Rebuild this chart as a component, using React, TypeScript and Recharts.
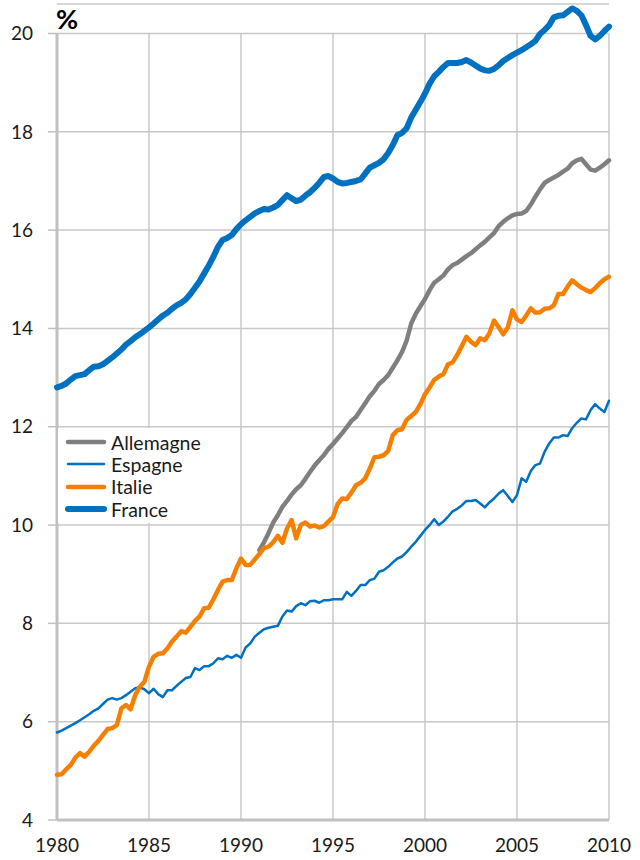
import {
  LineChart,
  Line,
  XAxis,
  YAxis,
  CartesianGrid,
  ReferenceLine,
  Legend,
} from "recharts";

const yearTicks = [1980, 1985, 1990, 1995, 2000, 2005, 2010];
const valueTicks = [4, 6, 8, 10, 12, 14, 16, 18, 20];

// quarterly values, 1980 Q1 -> 2010 Q1 (121 points)
const france = [
  12.8, 12.83, 12.88, 12.96, 13.03, 13.05, 13.07, 13.15, 13.22, 13.23,
  13.27, 13.34, 13.41, 13.49, 13.57, 13.67, 13.74, 13.82, 13.88, 13.95,
  14.02, 14.1, 14.18, 14.26, 14.32, 14.4, 14.47, 14.52, 14.59, 14.7,
  14.83, 14.96, 15.12, 15.28, 15.46, 15.66, 15.8, 15.84, 15.9, 16.02,
  16.12, 16.2, 16.27, 16.34, 16.39, 16.43, 16.42, 16.46, 16.51, 16.61,
  16.71, 16.65, 16.59, 16.62, 16.7, 16.77, 16.86, 16.96, 17.08, 17.1,
  17.05, 16.98, 16.95, 16.96, 16.98, 17.0, 17.03, 17.15, 17.27, 17.32,
  17.37, 17.44, 17.57, 17.73, 17.93, 17.98, 18.07, 18.29, 18.45, 18.61,
  18.78, 18.98, 19.13, 19.22, 19.32, 19.4, 19.4, 19.4, 19.42, 19.46,
  19.41, 19.35, 19.29, 19.25, 19.24, 19.28, 19.35, 19.44, 19.5, 19.56,
  19.61, 19.66, 19.72, 19.78, 19.85, 19.99, 20.07, 20.17, 20.33, 20.36,
  20.37, 20.44, 20.51, 20.46, 20.37, 20.17, 19.95, 19.88, 19.95, 20.05,
  20.14,
];

const espagne = [
  5.78, 5.82, 5.87, 5.92, 5.97, 6.03, 6.09, 6.15, 6.22, 6.27,
  6.36, 6.45, 6.48, 6.45, 6.48, 6.54, 6.61, 6.68, 6.7, 6.66,
  6.58, 6.67, 6.56, 6.5, 6.64, 6.64, 6.73, 6.81, 6.89, 6.91,
  7.09, 7.05, 7.13, 7.13, 7.19, 7.29, 7.27, 7.34, 7.3, 7.36,
  7.3, 7.51, 7.59, 7.73, 7.81, 7.88, 7.91, 7.93, 7.95, 8.14,
  8.26, 8.24, 8.35, 8.41, 8.37, 8.45, 8.46, 8.42, 8.47, 8.47,
  8.49, 8.49, 8.49, 8.64, 8.56, 8.66, 8.78, 8.78, 8.88, 8.91,
  9.05, 9.08, 9.15, 9.24, 9.32, 9.36, 9.45, 9.56, 9.66, 9.78,
  9.9, 10.0, 10.12, 10.0, 10.07, 10.17, 10.28, 10.33, 10.4, 10.49,
  10.49, 10.51, 10.44, 10.36, 10.46, 10.54, 10.64, 10.71, 10.59, 10.47,
  10.61, 10.95, 10.88, 11.1, 11.22, 11.25, 11.49, 11.66, 11.78, 11.78,
  11.83, 11.81, 11.97, 12.08, 12.17, 12.15, 12.34, 12.46, 12.37, 12.3,
  12.53,
];

const italie = [
  4.92, 4.93, 5.03, 5.12, 5.27, 5.36, 5.29, 5.39, 5.51, 5.61,
  5.73, 5.85, 5.87, 5.93, 6.27, 6.34, 6.25, 6.54, 6.71, 6.81,
  7.12, 7.32, 7.38, 7.39, 7.49, 7.63, 7.73, 7.84, 7.81, 7.93,
  8.05, 8.14, 8.31, 8.32, 8.49, 8.68, 8.85, 8.88, 8.88, 9.12,
  9.32, 9.19, 9.19, 9.3, 9.41, 9.53, 9.56, 9.65, 9.78, 9.64,
  9.93, 10.1, 9.73, 10.0, 10.05, 9.97, 9.99, 9.95, 9.98, 10.07,
  10.16, 10.43, 10.54, 10.53, 10.66, 10.81, 10.86, 10.95, 11.15, 11.38,
  11.39, 11.42, 11.51, 11.83, 11.93, 11.95, 12.14, 12.22, 12.3, 12.46,
  12.66, 12.8, 12.95, 13.02, 13.07, 13.27, 13.31, 13.46, 13.64, 13.83,
  13.73, 13.66, 13.8, 13.76, 13.9, 14.16, 14.03, 13.88, 14.02, 14.37,
  14.18, 14.13, 14.26, 14.41, 14.32, 14.33, 14.4, 14.41, 14.47, 14.7,
  14.7, 14.85, 14.98, 14.9, 14.83, 14.78, 14.74, 14.82, 14.92, 15.0,
  15.05,
];

// no data before reunification (1991)
const allemagne = [
  null, null, null, null, null, null, null, null, null, null,
  null, null, null, null, null, null, null, null, null, null,
  null, null, null, null, null, null, null, null, null, null,
  null, null, null, null, null, null, null, null, null, null,
  null, null, null, null, 9.49, 9.65, 9.84, 10.05, 10.2, 10.37,
  10.49, 10.62, 10.73, 10.81, 10.94, 11.08, 11.21, 11.32, 11.42, 11.55,
  11.65, 11.76, 11.87, 11.99, 12.12, 12.2, 12.34, 12.48, 12.62, 12.73,
  12.87, 12.95, 13.05, 13.2, 13.35, 13.52, 13.75, 14.1, 14.3, 14.45,
  14.6, 14.78, 14.93, 15.0, 15.08, 15.2, 15.29, 15.33, 15.4, 15.47,
  15.53, 15.61, 15.69, 15.76, 15.85, 15.94, 16.08, 16.17, 16.24, 16.3,
  16.33, 16.34, 16.39, 16.52, 16.68, 16.83, 16.96, 17.02, 17.07, 17.12,
  17.19, 17.25, 17.36, 17.42, 17.45, 17.34, 17.23, 17.21, 17.27, 17.34,
  17.42,
];

const series = [
  { key: "allemagne", name: "Allemagne", color: "#7f7f7f", width: 4.5 },
  { key: "espagne", name: "Espagne", color: "#0070c0", width: 2.5 },
  { key: "italie", name: "Italie", color: "#f57f00", width: 4.5 },
  { key: "france", name: "France", color: "#0070c0", width: 6 },
];

const data = france.map((v, i) => ({
  t: 1980 + i / 4,
  france: v,
  espagne: espagne[i],
  italie: italie[i],
  allemagne: allemagne[i],
}));

const FONT = "Lato, 'Noto Sans', sans-serif";
const GRID = "#c8c8c8";
const AXIS = "#c0c0c0";

const LegendBox = () => (
  <div style={{ background: "#fff", padding: "3px 0 3px 7px" }}>
    {series.map((s) => (
      <div
        key={s.key}
        style={{ display: "flex", alignItems: "center", height: 22.3 }}
      >
        <svg width={42} height={10}>
          <line
            x1={3}
            y1={5}
            x2={39}
            y2={5}
            stroke={s.color}
            strokeWidth={s.width}
            strokeLinecap="round"
          />
        </svg>
        <span style={{ marginLeft: 4, fontSize: 19.5, color: "#1a1a1a" }}>
          {s.name}
        </span>
      </div>
    ))}
  </div>
);

export default function App() {
  return (
    <div
      style={{
        position: "absolute",
        top: 0,
        left: 0,
        width: 640,
        height: 860,
        fontFamily: FONT,
        background: "#fff",
      }}
    >
      <div
        style={{
          position: "absolute",
          left: 56,
          top: 5,
          fontSize: 27,
          fontWeight: 700,
          lineHeight: 1,
          color: "#000",
          zIndex: 2,
        }}
      >
        %
      </div>
      <LineChart
        width={640}
        height={860}
        data={data}
        margin={{ top: 4, right: 31, bottom: 0, left: 0 }}
      >
        <CartesianGrid
          vertical={false}
          stroke={GRID}
          strokeWidth={1.5}
        />
        {yearTicks.slice(1).map((y) => (
          <ReferenceLine
            key={y}
            segment={[
              { x: y, y: 4 },
              { x: y, y: 20 },
            ]}
            stroke={GRID}
            strokeWidth={1.5}
          />
        ))}
        <ReferenceLine
          segment={[
            { x: 1980, y: 4 },
            { x: 1980, y: 20 },
          ]}
          stroke={AXIS}
          strokeWidth={3}
        />
        <XAxis
          dataKey="t"
          type="number"
          domain={[1980, 2010]}
          ticks={yearTicks}
          interval={0}
          height={40}
          axisLine={{ stroke: AXIS, strokeWidth: 3 }}
          tickLine={false}
          tickSize={6}
          tickMargin={13}
          tick={{ fontSize: 19, fill: "#1a1a1a", fontFamily: FONT }}
        />
        <YAxis
          type="number"
          domain={[4, 20.6]}
          ticks={valueTicks}
          interval={0}
          width={57}
          axisLine={false}
          tickLine={{ stroke: AXIS, strokeWidth: 1.5 }}
          tickSize={9}
          tickMargin={15}
          tick={{ fontSize: 19, fill: "#1a1a1a", fontFamily: FONT }}
        />
        <Legend
          layout="vertical"
          align="center"
          verticalAlign="middle"
          content={() => <LegendBox />}
          wrapperStyle={{ left: 58, top: 428, width: 150, bottom: "auto" }}
        />
        {series.map((s) => (
          <Line
            key={s.key}
            dataKey={s.key}
            name={s.name}
            type="linear"
            stroke={s.color}
            strokeWidth={s.width}
            strokeLinejoin="round"
            strokeLinecap="round"
            dot={false}
            activeDot={false}
            isAnimationActive={false}
          />
        ))}
      </LineChart>
    </div>
  );
}
